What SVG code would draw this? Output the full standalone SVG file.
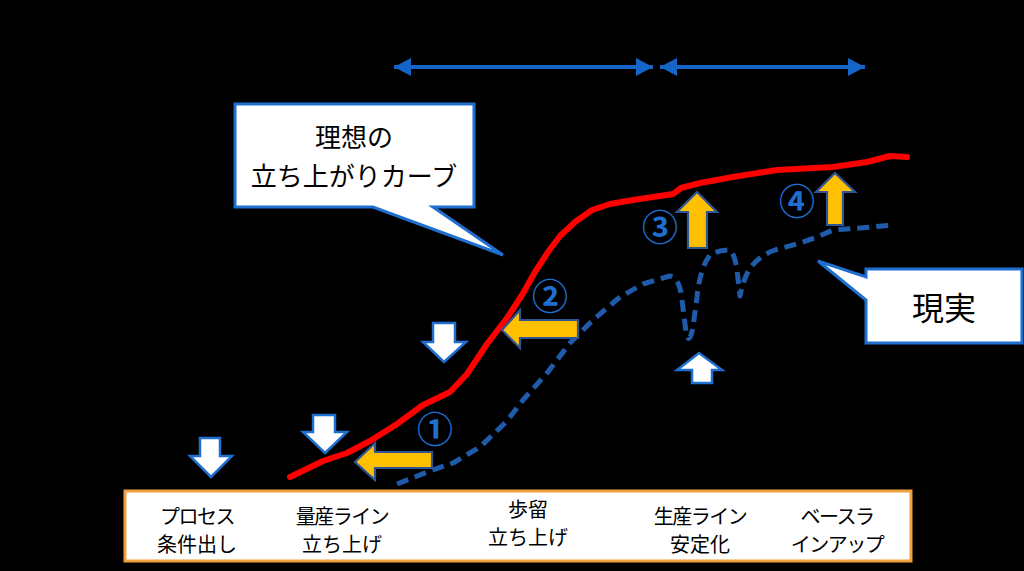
<svg xmlns="http://www.w3.org/2000/svg" width="1024" height="571" viewBox="0 0 1024 571">
<defs>
<style>
.t{font-family:"Noto Sans CJK JP","Noto Sans",sans-serif;fill:#000;text-anchor:middle}
.lbl{font-size:20px}
.kana{letter-spacing:-1.5px}
.num{font-family:"Noto Sans CJK JP","Noto Sans",sans-serif;fill:#1F6FD0;font-size:36px;text-anchor:middle;font-weight:bold}
.callout{fill:#fff;stroke:#1F6FD0;stroke-width:3;stroke-linejoin:miter}
.wArrow{fill:#fff;stroke:#1F6FD0;stroke-width:2.5;stroke-linejoin:miter}
.yArrow{fill:#FFC000;stroke:#2F5597;stroke-width:2.2;stroke-linejoin:miter}
.span{stroke:#1565C8;stroke-width:4;fill:none;marker-start:url(#head);marker-end:url(#head)}
</style>
<marker id="head" markerUnits="userSpaceOnUse" markerWidth="18" markerHeight="20" refX="17" refY="10" orient="auto-start-reverse">
<path d="M0,1 L17,10 L0,19 Z" fill="#1565C8"/>
</marker>
</defs>
<rect width="1024" height="571" fill="#000"/>

<g id="connectors">
<line class="span" x1="394" y1="67" x2="653" y2="67"/>
<line class="span" x1="660" y1="67" x2="865" y2="67"/>
</g>

<g id="ideal-curve">
<path d="M290,477 L323,461 L347,453 L370,441 L397,424 L423,405 L450,392 L467,374 L487,344 L507,318 L522,295 L535,272 L548,252 L560,236 L575,222 L592,210 L610,204 L633,200 L673,194 L681,188 L700,183 L733,177 L777,170 L833,167 L867,162 L890,156 L907,157" fill="none" stroke="#FF0000" stroke-width="6" stroke-linejoin="round" stroke-linecap="round"/>
</g>

<g id="real-curve">
<path d="M397,484 L430,471 L453,463 L480,447 L507,421 L523,400 L547,373 L570,343 L590,323 L600,314 L620,297 L643,284 L670,276 Q680,278 682,300 L686,332 Q689,347 693,327 L697,297 Q700,268 710,255 Q718,250 730,250 Q735,255 737,270 L740,296 Q743,280 750,268 Q760,255 775,250 L800,243 L817,237 L833,230 L860,228 L893,225" fill="none" stroke="#1F5BAA" stroke-width="5" stroke-dasharray="12 7" stroke-linejoin="round"/>
</g>

<g id="callout-ideal">
<path class="callout" d="M235,104 H474 V207 H433 L503,255 L373,207 H235 Z"/>
<text class="t" x="354" y="147" font-size="26">理想の</text>
<text class="t" x="354" y="186" font-size="26">立ち上がりカーブ</text>
</g>

<g id="callout-real">
<path class="callout" d="M866,269 H1022 V343 H866 V300 L818,261 L866,277 Z"/>
<text class="t" x="944" y="320" font-size="32">現実</text>
</g>

<g id="white-arrow-1"><path class="wArrow" d="M200,438 H220 V456 H232 L211,477 L190,456 H200 Z"/></g>
<g id="white-arrow-2"><path class="wArrow" d="M313,415 H335 V432 H347 L325,453 L303,432 H313 Z"/></g>
<g id="white-arrow-3"><path class="wArrow" d="M433,323 H455 V342 H466 L444,362 L423,342 H433 Z"/></g>
<g id="white-arrow-up"><path class="wArrow" d="M692,383 V370 H677 L699,353 L722,370 H712 V383 Z"/></g>

<g id="yellow-arrow-1"><path class="yArrow" d="M432,452 V468 H375 V480 L355,462 L375,443 V452 Z"/></g>
<g id="yellow-arrow-2"><path class="yArrow" d="M578,320 V338 H520 V348 L502,330 L520,310 V320 Z"/></g>
<g id="yellow-arrow-3"><path class="yArrow" d="M688,248 V212 H677 L697,192 L717,212 H707 V248 Z"/></g>
<g id="yellow-arrow-4"><path class="yArrow" d="M827,225 V192 H816 L835,173 L855,192 H843 V225 Z"/></g>

<g id="num-1"><text class="num" x="435" y="443">①</text></g>
<g id="num-2"><text class="num" x="550" y="310">②</text></g>
<g id="num-3"><text class="num" x="660" y="241">③</text></g>
<g id="num-4"><text class="num" x="797" y="215">④</text></g>

<g id="phase-bar">
<rect x="125" y="491" width="786" height="70" fill="#fff" stroke="#F0A040" stroke-width="3"/>
<text class="t lbl kana" x="197" y="524">プロセス</text>
<text class="t lbl" x="197" y="552">条件出し</text>
<text class="t lbl kana" x="342" y="524">量産ライン</text>
<text class="t lbl" x="342" y="552">立ち上げ</text>
<text class="t lbl" x="528" y="517">歩留</text>
<text class="t lbl" x="528" y="545">立ち上げ</text>
<text class="t lbl kana" x="700" y="524">生産ライン</text>
<text class="t lbl" x="700" y="552">安定化</text>
<text class="t lbl kana" x="837" y="524">ベースラ</text>
<text class="t lbl kana" x="837" y="552">インアップ</text>
</g>
</svg>
